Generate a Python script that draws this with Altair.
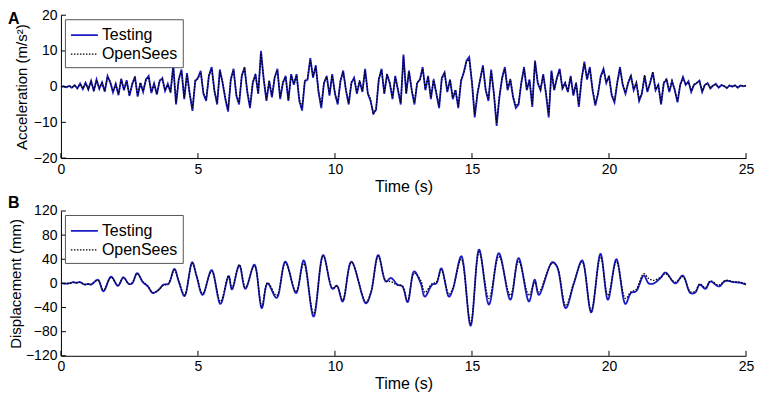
import altair as alt
import pandas as pd

# ---------------- data ----------------
series_names = ["Testing", "OpenSees"]
panel_labels = ["A", "B"]
time_ticks = [0, 5, 10, 15, 20, 25]
accel_ticks = [-20, -10, 0, 10, 20]
disp_ticks = [-120, -80, -40, 0, 40, 80, 120]

# acceleration (m/s^2), sampled every 0.1 s from 0 to 25 s
accel_testing = [
    0.0, 0.1, -0.2, 0.2, -0.3, 0.4, -0.5, 0.9, -0.7, 1.1,
    -0.8, 1.6, -1.2, 2.0, -0.6, 1.2, -1.4, 3.0, 1.2, -1.6,
    0.8, -2.4, 2.2, -1.0, 1.8, -2.6, 0.6, 2.8, -2.8, 1.0,
    -1.5, 2.0, 3.0, -1.8, 0.9, -2.2, 1.5, 2.4, -1.2, 0.8,
    -1.6, 6.0, -5.0, 2.0, 4.8, -3.5, 3.8, -2.0, -6.8, 1.5,
    2.5, 4.4, -2.0, -4.0, 3.0, 5.5, -1.0, -5.0, 4.8, 1.0,
    -3.5, -7.0, 2.0, 5.0, -2.5, -5.0, 3.0, 5.4, -1.5, -6.0,
    1.0, 3.5, -2.0, 10.0, 2.0, -4.0, 1.5, -3.0, 2.5, 5.0,
    -3.5, 1.0, 3.0, -4.0, 3.5, 0.5, 3.5, -4.0, -6.7, 1.5,
    2.0, 8.0, 2.5, 6.0, -1.5, -6.0, 1.0, 3.0, -2.5, 3.5,
    -2.0, -5.0, 1.5, 4.5, -1.0, -5.0, 1.0, 2.5, -2.0, 1.5,
    -1.5, 5.0, -2.0, -4.0, -7.5, -6.5, 2.0, 5.0, -2.0, 3.5,
    1.0, -3.5, 3.0, -1.0, -5.0, 9.0, -2.0, 4.5, -1.0, -5.0,
    1.0, 2.0, 5.5, -1.0, 3.0, -3.5, 2.0, -2.0, -6.0, 2.5,
    4.0, -1.5, 2.0, -3.5, -1.0, -6.0, 1.5, 4.0, 7.3, 8.3,
    1.0, -8.6, -2.0, 2.0, 6.0, -1.0, -4.0, 4.8, -2.0, -11.0,
    -3.0, 2.5, 5.5, -1.0, 2.0, -3.0, -6.0, -5.0, 1.0, 5.5,
    -1.0, 2.0, -5.7, 7.3, 1.0, -1.0, 3.5, -2.0, -8.6, 4.5,
    -1.0, 2.5, 5.0, -0.5, 1.0, -1.5, 3.0, -2.5, 1.0, -5.7,
    2.0, 7.0, 2.0, 5.5, -1.0, -5.3, -2.0, 3.0, 5.0, 1.0,
    3.0, -2.5, -4.4, 1.0, 5.5, 0.5, -2.0, 1.0, 3.0, -1.0,
    1.0, -4.0, -2.0, 3.0, -1.5, 1.0, 4.0, -1.0, 0.5, -5.0,
    1.0, 2.0, -1.5, 1.5, -1.0, -4.4, 0.5, 2.7, 0.5, 1.5,
    -1.5, 0.5, 1.0, 1.7, -1.5, 0.5, 1.0, -0.5, 0.3, 0.8,
    -0.3, 0.4, 0.2, -0.4, 0.3, 0.0, 0.4, -0.3, 0.3, 0.1,
    0.3,
]
accel_opensees = [
    0.0, 0.0, -0.1, 0.3, -0.2, 0.3, -0.4, 0.7, -0.5, 0.9,
    -0.6, 1.4, -1.0, 1.8, -0.4, 1.0, -1.2, 2.7, 1.4, -1.3,
    0.6, -2.0, 2.0, -0.8, 1.5, -2.3, 0.9, 2.5, -2.4, 1.2,
    -1.2, 1.7, 2.7, -1.4, 0.6, -2.0, 1.8, 2.1, -1.0, 0.5,
    -1.3, 5.6, -4.4, 2.3, 4.3, -3.1, 3.4, -2.3, -6.0, 1.8,
    2.2, 4.0, -1.7, -3.6, 3.3, 5.0, -1.3, -4.5, 4.3, 1.3,
    -3.1, -6.3, 2.3, 4.6, -2.2, -4.5, 3.2, 5.0, -1.2, -5.4,
    1.3, 3.2, -1.8, 9.3, 2.3, -3.6, 1.8, -2.6, 2.8, 4.6,
    -3.0, 1.3, 2.7, -3.6, 3.2, 0.8, 3.2, -3.5, -6.0, 1.7,
    2.3, 7.4, 2.8, 5.6, -1.2, -5.4, 1.3, 2.7, -2.1, 3.2,
    -1.7, -4.5, 1.7, 4.1, -0.8, -4.6, 1.3, 2.2, -1.6, 1.8,
    -1.2, 4.5, -1.7, -3.6, -7.8, -6.0, 2.3, 4.6, -1.7, 3.2,
    1.3, -3.1, 2.7, -0.8, -4.5, 8.4, -1.7, 4.1, -0.8, -4.5,
    1.3, 1.8, 5.0, -0.7, 2.7, -3.1, 2.2, -1.7, -5.4, 2.2,
    3.6, -1.2, 1.8, -3.1, -0.8, -5.5, 1.8, 3.7, 6.8, 7.7,
    1.3, -7.9, -1.7, 2.3, 5.5, -0.7, -3.6, 4.3, -1.7, -10.2,
    -2.6, 2.3, 5.0, -0.7, 2.2, -2.7, -5.4, -4.6, 1.3, 5.0,
    -0.7, 1.8, -5.1, 6.8, 1.3, -0.7, 3.2, -1.7, -7.9, 4.1,
    -0.8, 2.3, 4.6, -0.3, 1.2, -1.3, 2.7, -2.2, 1.2, -5.1,
    2.3, 6.4, 2.2, 5.0, -0.7, -4.8, -1.7, 2.7, 4.6, 1.3,
    2.7, -2.2, -4.0, 1.2, 5.0, 0.8, -1.7, 1.2, 3.3, -0.7,
    1.2, -3.6, -1.7, 3.3, -1.2, 1.2, 4.2, -0.8, 0.7, -4.6,
    1.2, 2.2, -1.2, 1.7, -0.8, -4.0, 0.7, 2.4, 0.7, 1.3,
    -1.2, 0.6, 1.1, 1.5, -1.2, 0.6, 0.8, -0.3, 0.4, 0.6,
    -0.2, 0.5, 0.1, -0.3, 0.4, 0.1, 0.3, -0.2, 0.4, 0.2,
    0.3,
]
accel_time = [round(0.1 * i, 1) for i in range(len(accel_testing))]

# displacement (mm) at the turning points
disp_time = [
    0.0, 0.3, 0.45, 0.56, 0.7, 0.86, 1.0, 1.1, 1.35, 1.55,
    1.83, 2.08, 2.28, 2.48, 2.6, 2.78, 2.99, 3.17, 3.35, 3.53,
    3.75, 3.92, 4.14, 4.3, 4.51, 4.79, 4.95, 5.17, 5.5, 5.82,
    6.12, 6.24, 6.51, 6.73, 7.06, 7.33, 7.54, 7.87, 8.19, 8.58,
    8.86, 9.22, 9.57, 9.91, 10.07, 10.28, 10.6, 11.13, 11.31, 11.58,
    11.86, 12.04, 12.28, 12.46, 12.65, 12.89, 13.13, 13.28, 13.55, 13.7,
    13.88, 14.16, 14.3, 14.61, 14.95, 15.26, 15.62, 15.98, 16.4, 16.7,
    17.08, 17.29, 17.44, 17.93, 18.1, 18.42, 18.72, 19.02, 19.35, 19.69,
    19.96, 20.27, 20.6, 20.8, 20.99, 21.27, 21.45, 21.63, 21.88, 22.06,
    22.42, 22.69, 22.97, 23.15, 23.31, 23.52, 23.7, 24.01, 24.25, 24.55,
    24.8, 25.0,
]
disp_testing = [
    0, 0, 2, 1, 2, -2, -1, -2, 6, -13,
    11, -4, 10, -1, 0, 17, 2, -5, -16, -12,
    -2, -1, 24, 3, -21, 35, 12, -19, 22, -34,
    12, -10, 30, -9, 31, -41, 0, -24, 36, -16,
    38, -55, 47, -9, -4, -30, 36, -33, -16, 47,
    3, 9, -2, -5, -31, 20, 0, -22, -2, 0,
    25, -22, -10, 45, -70, 56, -35, 50, -27, 42,
    -30, 6, -19, 35, 28, -41, 0, 38, -48, 49,
    -27, 40, -34, -16, -13, 13, 0, 0, 9, 18,
    0, 13, -16, -15, -2, -9, 3, -5, 4, 2,
    1, -2,
]
disp_opensees = [
    0, 0, 1.5, 1, 2, -1.5, -1, -1.5, 5, -11,
    10, -3, 9, -1, 1, 16, 3, -4, -15, -12,
    -3, 0, 22, 4, -19, 33, 13, -17, 20, -30,
    13, -8, 31, -7, 29, -38, 1, -20, 34, -14,
    33, -50, 45, -8, -4, -28, 35, -31, -15, 45,
    4, 3, -3, -4, -29, 17, 5, -15, 0, 2,
    22, -18, -8, 40, -66, 52, -25, 45, -20, 37,
    -20, 2, -14, 34, 29, -37, 2, 36, -45, 44,
    -20, 36, -25, -14, -10, 16, 8, 5, 10, 16,
    2, 11, -14, -13, -1, -7, 4, -3, 5, 3,
    2, -1,
]

# ---------------- styling ----------------
BLUE = "#1c1cc4"
FONT = "Liberation Sans"
W = 686


def long_df(t, a, b):
    return pd.DataFrame({
        "t": list(t) + list(t),
        "v": list(a) + list(b),
        "series": [series_names[0]] * len(a) + [series_names[1]] * len(b),
    })


def panel(df, ytitle, ydomain, yticks, H, label, label_dy, interp, ytitle_pad):
    xs = alt.Scale(domain=[0, 25], nice=False, zero=False)
    ys = alt.Scale(domain=ydomain, nice=False, zero=False)
    xaxis = alt.Axis(values=time_ticks, title="Time (s)", labelFlush=False,
                     labelPadding=4, titlePadding=2, titleFontSize=16)
    yaxis = alt.Axis(values=yticks, title=ytitle, labelFlush=False,
                     labelPadding=4, titlePadding=ytitle_pad, titleFontSize=15)
    leg = alt.Legend(title=None)
    lines = alt.Chart(df).mark_line(interpolate=interp).encode(
        x=alt.X("t:Q", scale=xs, axis=xaxis),
        y=alt.Y("v:Q", scale=ys, axis=yaxis),
        color=alt.Color("series:N", scale=alt.Scale(domain=series_names, range=[BLUE, "black"]), legend=leg),
        strokeDash=alt.StrokeDash("series:N", scale=alt.Scale(domain=series_names, range=[[1, 0], [1.5, 1.5]]), legend=leg),
        strokeWidth=alt.StrokeWidth("series:N", scale=alt.Scale(domain=series_names, range=[1.8, 1.3]), legend=leg),
    )
    xt = alt.Chart(pd.DataFrame({"t": time_ticks})).mark_rule(color="black", strokeWidth=1).encode(
        x=alt.X("t:Q", scale=xs, axis=xaxis), y=alt.value(H), y2=alt.value(H - 5))
    yt = alt.Chart(pd.DataFrame({"v": yticks})).mark_rule(color="black", strokeWidth=1).encode(
        y=alt.Y("v:Q", scale=ys, axis=yaxis), x=alt.value(0), x2=alt.value(5))
    lab = alt.Chart(pd.DataFrame({"lab": [label]})).mark_text(
        align="left", baseline="top", font=FONT, fontSize=16, fontWeight="bold", color="black"
    ).encode(text="lab:N", x=alt.value(-53), y=alt.value(label_dy))
    return alt.layer(lines, xt, yt, lab).properties(width=W, height=H)


pa = panel(long_df(accel_time, accel_testing, accel_opensees), "Acceleration (m/s²)",
           [-20, 20], accel_ticks, 143, panel_labels[0], -4, "linear", 4)
pb = panel(long_df(disp_time, disp_testing, disp_opensees), "Displacement (mm)",
           [-120, 120], disp_ticks, 145, panel_labels[1], -16, "catmull-rom", 2)

chart = alt.vconcat(pa, pb, spacing=53, bounds="flush").resolve_scale(
    color="independent", strokeDash="independent", strokeWidth="independent"
).resolve_legend(
    color="independent", strokeDash="independent", strokeWidth="independent"
).properties(
    padding={"left": 0, "top": 0, "right": 5, "bottom": 0}
).configure_view(stroke=None).configure_axis(
    domainColor="black", domainWidth=1, ticks=False, grid=False,
    labelFont=FONT, labelFontSize=14, labelColor="black",
    titleFont=FONT, titleFontWeight="normal", titleColor="black",
).configure_legend(
    orient="top-left", offset=4, padding=5, strokeColor="#555555", fillColor="white",
    cornerRadius=0, symbolType="M-1.35,0H1.35", symbolSize=400, symbolOffset=3.5,
    labelFont=FONT, labelFontSize=16, labelColor="black", labelOffset=6.5, rowPadding=0,
)

chart.save("out.html", embed_options={"renderer": "svg", "actions": False})
